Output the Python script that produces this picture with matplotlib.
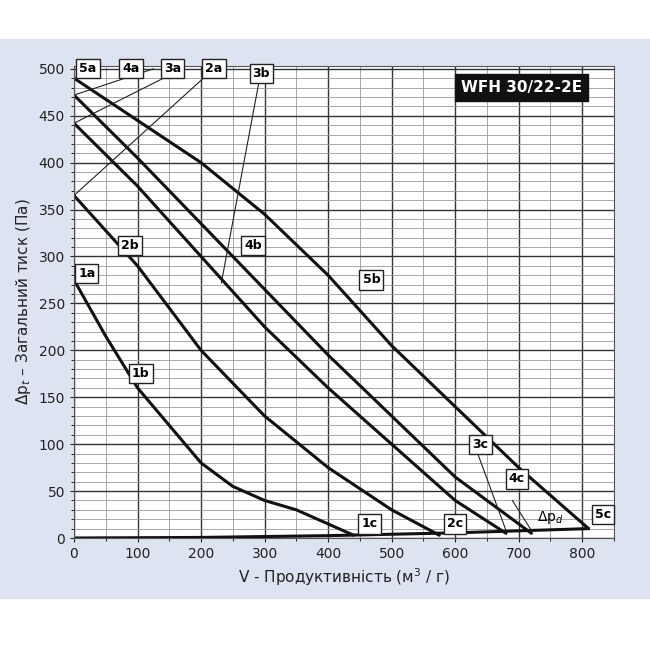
import matplotlib.pyplot as plt
import numpy as np
from matplotlib.ticker import MultipleLocator

x1=[0,50,100,150,200,250,300,350,400,440]; y1=[275,215,160,120,80,55,40,30,15,3]
x2=[0,100,200,300,400,500,575]; y2=[365,290,200,130,75,30,3]
x3=[0,100,200,300,400,500,600,680]; y3=[442,375,300,225,160,100,40,5]
x4=[0,100,200,300,400,500,600,720]; y4=[472,405,335,265,195,130,65,5]
x5=[0,100,200,300,400,500,600,700,810]; y5=[490,445,400,345,280,205,140,75,10]
xd=[0,200,400,600,810]; yd=[0,0.6,2.5,5.5,10]
xticks=[0,100,200,300,400,500,600,700,800]; yticks=[0,50,100,150,200,250,300,350,400,450,500]

bg='#dde3f0'
fig=plt.figure(figsize=(6.5,6.5),dpi=100)
fig.patches.append(plt.Rectangle((0,0.08),1,0.86,transform=fig.transFigure,color=bg,zorder=-1))
ax=fig.add_axes([74/650,1-538/650,(614-74)/650,(538-66)/650])
ax.set_facecolor('white')
ax.set_xlim(0,850); ax.set_ylim(0,503)
ax.xaxis.set_major_locator(MultipleLocator(100)); ax.xaxis.set_minor_locator(MultipleLocator(50))
ax.yaxis.set_major_locator(MultipleLocator(50)); ax.yaxis.set_minor_locator(MultipleLocator(10))
ax.set_xticks(xticks); ax.set_yticks(yticks)
ax.grid(which='major',color='#333',lw=1.0)
ax.grid(which='minor',color='#999',lw=0.6)
ax.set_axisbelow(True)
ax.tick_params(labelsize=10,colors='#222',length=3)
for s in ax.spines.values(): s.set_color('#555')
lk=dict(color='#111',lw=2.2,solid_capstyle='round')
for x,y in [(x1,y1),(x2,y2),(x3,y3),(x4,y4),(x5,y5)]:
    ax.plot(x,y,**lk)
ax.plot(xd,yd,**lk)
tl=dict(color='#222',lw=0.8)
for lx,ly,px,py in [(125,500,0,472),(170,500,0,442),(220,500,0,365),(295,500,232,272)]:
    ax.plot([lx,px],[ly,py],**tl)
ax.plot([630,680],[100,8],**tl); ax.plot([690,720],[40,8],**tl)
bb=dict(boxstyle='square,pad=0.25',fc='white',ec='#222',lw=1)
labs=[('5a',22,500),('4a',90,500),('3a',155,500),('2a',220,500),('3b',295,495),
('1a',20,282),('2b',88,312),('4b',282,312),('5b',468,275),('1b',105,175),
('1c',465,15),('2c',600,15),('3c',640,100),('4c',697,63),('5c',833,25)]
for t,x,y in labs:
    ax.text(x,y,t,fontsize=9,fontweight='bold',ha='center',va='center',bbox=bb,zorder=5)
ax.text(750,22,'Δp$_d$',fontsize=10,ha='center',va='center')
ax.text(800,480,'WFH 30/22-2E',fontsize=11,fontweight='bold',color='white',ha='right',va='center',
        bbox=dict(boxstyle='square,pad=0.4',fc='#111',ec='#111'),zorder=6)
ax.set_xlabel('V - Продуктивність (м$^3$ / г)',fontsize=11,color='#222')
ax.set_ylabel('Δp$_t$ – Загальний тиск (Па)',fontsize=11,color='#222')
fig.savefig('out.png',dpi=100)
